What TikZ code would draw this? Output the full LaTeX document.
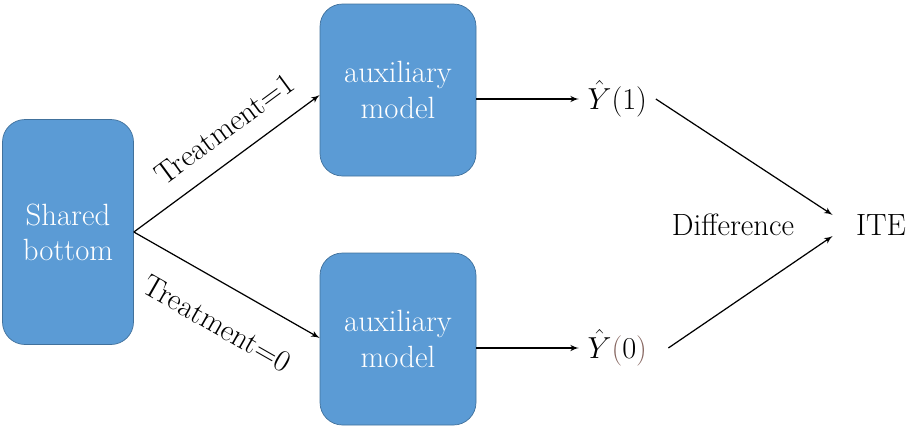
\documentclass[tikz,border=0pt]{standalone}
\usepackage{amsmath}
\usetikzlibrary{arrows,positioning,calc}
\definecolor{boxblue}{RGB}{91,155,213}
\definecolor{boxline}{RGB}{65,113,156}
\definecolor{parbrown}{RGB}{134,102,96}
\tikzset{
>=latex',
  block/.style={
    rectangle,
    rounded corners=0.45cm,
    fill=boxblue,
    draw=boxline, thin,
    text=white,
    align=center,
    font=\fontsize{17.5}{20}\selectfont},
  outlabel/.style={font=\fontsize{17.5}{20}\selectfont, inner sep=0.17cm},
  myarrow/.style={draw, ->, line width=0.7pt},
  armlabel/.style={sloped, font=\fontsize{17.5}{20}\selectfont},
}

\begin{document}
\begin{tikzpicture}
    \useasboundingbox (0,0) rectangle (18.18,-8.54);

    \node[block, minimum width=2.62cm, minimum height=4.5cm] (shared) at (1.36,-4.64) {Shared\\bottom};
    \node[block, minimum width=3.12cm, minimum height=3.44cm] (aux1) at (7.96,-1.8) {auxiliary\\model};
    \node[block, minimum width=3.12cm, minimum height=3.44cm] (aux0) at (7.96,-6.78) {auxiliary\\model};

    \node[outlabel, right=2.05cm of aux1, yshift=-0.18cm] (yh1) {$\hat{Y}(1)$};
    \node[outlabel, right=2.05cm of aux0, yshift=-0.18cm] (yh0) {$\hat{Y}\textcolor{parbrown}{(}0\textcolor{parbrown}{)}$};
    \node[outlabel] (diff) at (14.66,-4.5) {Difference};
    \node[outlabel] (ite) at (17.62,-4.5) {ITE};

    % treatment branches
    \path[myarrow] (shared.east) -- node[armlabel, above=7pt, pos=0.58] {Treatment=1} ([yshift=-0.1cm]aux1.west);
    \path[myarrow] (shared.east) -- node[armlabel, below=12pt, pos=0.55] {Treatment=0} ([yshift=0.02cm]aux0.west);

    \path[myarrow] (aux1.east |- yh1) -- (yh1);
    \path[myarrow] (aux0.east |- yh0) -- (yh0);

    \path[myarrow] (yh1.east) -- ([xshift=-0.29cm,yshift=0.2cm]ite.west);
    \path[myarrow] ([xshift=0.25cm]yh0.east) -- ([xshift=-0.29cm,yshift=-0.22cm]ite.west);
\end{tikzpicture}
\end{document}
